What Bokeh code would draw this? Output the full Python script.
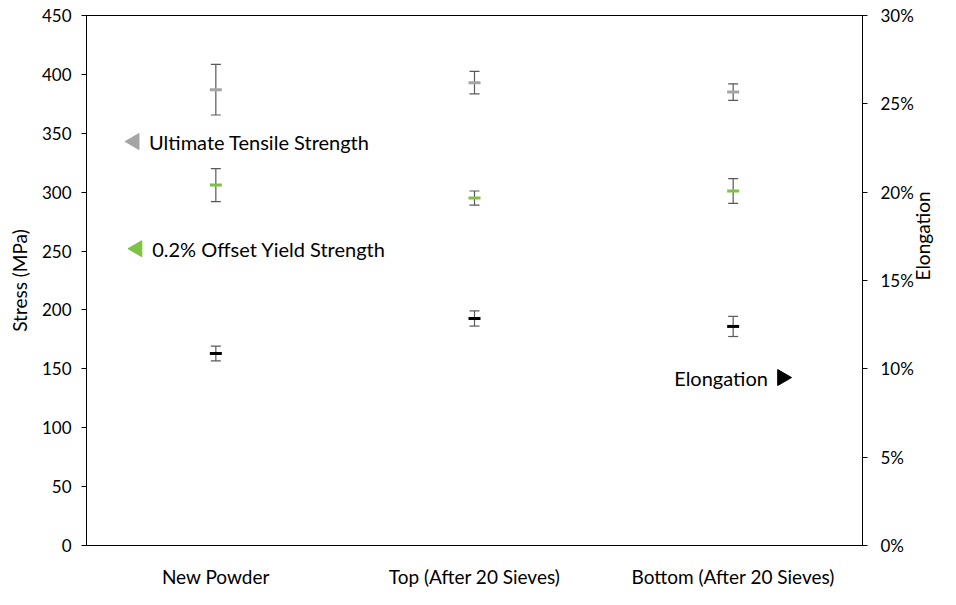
import math
from bokeh.plotting import figure
from bokeh.models import Range1d, LinearAxis, FixedTicker, NumeralTickFormatter
from bokeh.core.properties import value
from bokeh.embed import file_html
from bokeh.resources import INLINE

# ---- data ----
categories = ["New Powder", "Top (After 20 Sieves)", "Bottom (After 20 Sieves)"]
uts_mean = [387, 393, 385]
uts_err = [21.5, 9.5, 7]
ys_mean = [306, 295, 301]
ys_err = [14, 6, 10.5]
elong_mean = [0.1087, 0.1285, 0.1240]
elong_err = [0.0042, 0.0043, 0.0057]
stress_ticks = [0, 50, 100, 150, 200, 250, 300, 350, 400, 450]
elong_ticks = [0, 0.05, 0.10, 0.15, 0.20, 0.25, 0.30]

FONT = "Lato"
xs = [i + 0.5 for i in range(len(categories))]

p = figure(width=948, height=597, output_backend="svg", toolbar_location=None,
           x_range=Range1d(0, len(categories)), y_range=Range1d(0, 450),
           min_border_left=86, min_border_right=83, min_border_top=15, min_border_bottom=52)
p.extra_y_ranges = {"elong": Range1d(0, 0.30)}
p.grid.visible = False
p.outline_line_color = "black"
p.outline_line_width = 1
p.background_fill_color = "white"
p.border_fill_color = "white"

# x axis
p.xaxis.ticker = FixedTicker(ticks=xs)
p.xaxis.major_label_overrides = {x: c for x, c in zip(xs, categories)}
p.xaxis.major_tick_line_color = None
p.xaxis.minor_tick_line_color = None
p.xaxis.axis_line_color = "black"
p.xaxis.major_label_text_font = FONT
p.xaxis.major_label_text_font_size = "19px"
p.xaxis.major_label_text_color = "black"
p.xaxis.major_label_standoff = 13

# left axis
yl = p.yaxis[0]
yl.ticker = FixedTicker(ticks=stress_ticks)
yl.axis_label = "Stress (MPa)"
yl.axis_label_text_font = FONT
yl.axis_label_text_font_size = "19px"
yl.axis_label_text_font_style = "normal"
yl.axis_label_text_color = "black"
yl.major_label_text_font = FONT
yl.major_label_text_font_size = "17px"
yl.major_label_text_color = "black"
yl.major_tick_out = 5
yl.major_tick_in = 0
yl.minor_tick_line_color = None
yl.axis_line_color = "black"
yl.major_tick_line_color = "black"
yl.major_label_standoff = 10
yl.axis_label_standoff = 8

# right axis (ticks and labels)
yr = LinearAxis(y_range_name="elong", ticker=FixedTicker(ticks=elong_ticks),
                formatter=NumeralTickFormatter(format="0%"))
yr.major_label_text_font = FONT
yr.major_label_text_font_size = "17px"
yr.major_label_text_color = "black"
yr.major_tick_out = 5
yr.major_tick_in = 0
yr.minor_tick_line_color = None
yr.axis_line_color = "black"
yr.major_tick_line_color = "black"
yr.major_label_standoff = 13
p.add_layout(yr, "right")

# right axis title, carried by a bare axis so it reads bottom-to-top
yt = LinearAxis(y_range_name="elong", ticker=FixedTicker(ticks=[]), bounds=(0, 0.2547))
yt.axis_label = "Elongation"
yt.axis_label_text_font = FONT
yt.axis_label_text_font_size = "19px"
yt.axis_label_text_font_style = "normal"
yt.axis_label_text_color = "black"
yt.axis_label_standoff = 6
yt.axis_line_color = None
yt.major_tick_line_color = None
yt.minor_tick_line_color = None
try:
    yt.axis_label_orientation = math.pi / 2
except Exception:
    pass
p.add_layout(yt, "right")

ERR = "#595959"

def series(mean, err, color, rng=None):
    kw = {} if rng is None else {"y_range_name": rng}
    lo = [m - e for m, e in zip(mean, err)]
    hi = [m + e for m, e in zip(mean, err)]
    p.segment(x0=xs, y0=lo, x1=xs, y1=hi, line_color=ERR, line_width=1.2, **kw)
    p.scatter(x=xs + xs, y=lo + hi, marker="dash", size=10, line_color=ERR, line_width=1.2, **kw)
    p.scatter(x=xs, y=mean, marker="dash", size=12, line_color=color, line_width=3, **kw)

series(uts_mean, uts_err, "#A5A5A5")
series(ys_mean, ys_err, "#7DC243")
series(elong_mean, elong_err, "#000000", "elong")

# annotations
p.scatter(x=[0.185], y=[343], marker="triangle", angle=math.pi / 2, size=16,
          fill_color="#A5A5A5", line_color="#A5A5A5")
p.text(x=[0.242], y=[343], text=["Ultimate Tensile Strength"], text_font=value(FONT),
       text_font_size="20px", text_baseline="middle", text_align="left", text_color="black")
p.scatter(x=[0.196], y=[252], marker="triangle", angle=math.pi / 2, size=16,
          fill_color="#7DC243", line_color="#7DC243")
p.text(x=[0.254], y=[252], text=["0.2% Offset Yield Strength"], text_font=value(FONT),
       text_font_size="20px", text_baseline="middle", text_align="left", text_color="black")
p.scatter(x=[2.69], y=[142.6], marker="triangle", angle=-math.pi / 2, size=16,
          fill_color="black", line_color="black")
p.text(x=[2.272], y=[142.6], text=["Elongation"], text_font=value(FONT),
       text_font_size="20px", text_baseline="middle", text_align="left", text_color="black")

open("out.html", "w").write(file_html(p, INLINE))
